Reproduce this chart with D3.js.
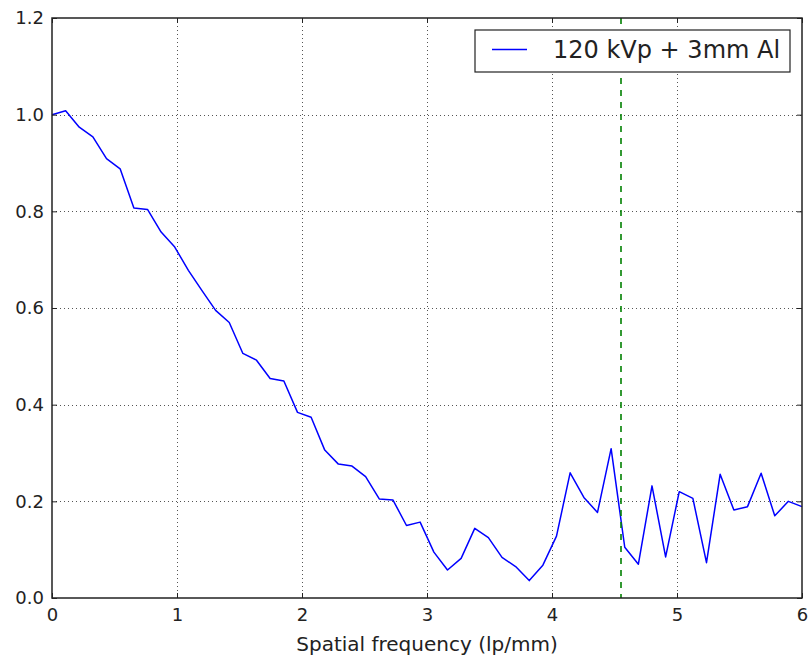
<!DOCTYPE html>
<html>
<head>
<meta charset="utf-8">
<script src="https://cdn.jsdelivr.net/npm/d3@7"></script>
<style>
  html, body { margin: 0; padding: 0; background: #fff; }
  svg { display: block; font-family: "DejaVu Sans", sans-serif; }
</style>
</head>
<body>
<svg id="chart" width="809" height="658"></svg>
<script>
// Spatial frequencies (lp/mm)
const frequency = [
  0.000, 0.109, 0.218, 0.327, 0.436, 0.545, 0.655, 0.764, 0.873, 0.982,
  1.091, 1.200, 1.309, 1.418, 1.527, 1.636, 1.745, 1.855, 1.964, 2.073,
  2.182, 2.291, 2.400, 2.509, 2.618, 2.727, 2.836, 2.945, 3.055, 3.164,
  3.273, 3.382, 3.491, 3.600, 3.709, 3.818, 3.927, 4.036, 4.145, 4.255,
  4.364, 4.473, 4.582, 4.691, 4.800, 4.909, 5.018, 5.127, 5.236, 5.345,
  5.455, 5.564, 5.673, 5.782, 5.891, 6.000
];
// MTF for 120 kVp + 3mm Al
const mtf = [
  1.000, 1.008, 0.974, 0.954, 0.909, 0.888, 0.807, 0.804, 0.757, 0.726,
  0.678, 0.636, 0.595, 0.570, 0.506, 0.492, 0.454, 0.449, 0.384, 0.374,
  0.306, 0.277, 0.273, 0.251, 0.205, 0.203, 0.150, 0.157, 0.095, 0.058,
  0.082, 0.144, 0.125, 0.084, 0.065, 0.036, 0.068, 0.128, 0.259, 0.208,
  0.177, 0.309, 0.105, 0.070, 0.232, 0.085, 0.220, 0.206, 0.073, 0.256,
  0.182, 0.189, 0.258, 0.170, 0.200, 0.189
];
const seriesLabel = "120 kVp + 3mm Al";
const nyquist = 4.552;
const xTicks = [0, 1, 2, 3, 4, 5, 6];
const yTicks = [0.0, 0.2, 0.4, 0.6, 0.8, 1.0, 1.2];
const xLabel = "Spatial frequency (lp/mm)";

const margin = { left: 52, top: 18, right: 7, bottom: 60 };
const W = 809, H = 658;
const innerW = W - margin.left - margin.right;
const innerH = H - margin.top - margin.bottom;

const svg = d3.select("#chart");
const g = svg.append("g").attr("transform", `translate(${margin.left},${margin.top})`);

const x = d3.scaleLinear().domain([0, 6]).range([0, innerW]);
const y = d3.scaleLinear().domain([0, 1.2]).range([innerH, 0]);

// dotted grid
const grid = g.append("g").attr("stroke", "#555").attr("stroke-width", 1)
  .attr("stroke-dasharray", "1,3");
grid.selectAll(".gx").data(xTicks.slice(1, -1)).join("line")
  .attr("x1", d => Math.round(x(d)) + 0.5).attr("x2", d => Math.round(x(d)) + 0.5)
  .attr("y1", 0).attr("y2", innerH);
grid.selectAll(".gy").data(yTicks.slice(1, -1)).join("line")
  .attr("y1", d => Math.round(y(d)) + 0.5).attr("y2", d => Math.round(y(d)) + 0.5)
  .attr("x1", 0).attr("x2", innerW);

// data line
const line = d3.line().x((d, i) => x(frequency[i])).y(d => y(d));
g.append("path").datum(mtf)
  .attr("fill", "none").attr("stroke", "#0000ff").attr("stroke-width", 1.5)
  .attr("stroke-linejoin", "round")
  .attr("d", line);

// Nyquist marker
g.append("line")
  .attr("x1", x(nyquist)).attr("x2", x(nyquist))
  .attr("y1", 0).attr("y2", innerH)
  .attr("stroke", "#008000").attr("stroke-width", 1.6)
  .attr("stroke-dasharray", "6,6");

// axes with inward ticks on all sides
const tickLen = 5;
const axB = d3.axisBottom(x).tickValues(xTicks).tickFormat(d3.format("d"))
  .tickSizeInner(-tickLen).tickSizeOuter(0).tickPadding(10);
const axL = d3.axisLeft(y).tickValues(yTicks).tickFormat(d3.format(".1f"))
  .tickSizeInner(-tickLen).tickSizeOuter(0).tickPadding(8);
const axT = d3.axisTop(x).tickValues(xTicks).tickFormat("").tickSizeInner(-tickLen).tickSizeOuter(0);
const axR = d3.axisRight(y).tickValues(yTicks).tickFormat("").tickSizeInner(-tickLen).tickSizeOuter(0);

function styleAxis(sel) {
  sel.select(".domain").remove();
  sel.selectAll(".tick line").attr("stroke", "#222");
  sel.selectAll("text").attr("fill", "#222").style("font-size", "18px")
    .style("font-family", "DejaVu Sans, sans-serif");
}
g.append("g").attr("transform", `translate(0,${innerH})`).call(axB).call(styleAxis);
g.append("g").call(axL).call(styleAxis);
g.append("g").call(axT).call(styleAxis);
g.append("g").attr("transform", `translate(${innerW},0)`).call(axR).call(styleAxis);

// frame
g.append("rect").attr("x", 0).attr("y", 0).attr("width", innerW).attr("height", innerH)
  .attr("fill", "none").attr("stroke", "#222").attr("stroke-width", 1.5);

// axis label
g.append("text")
  .attr("x", innerW / 2).attr("y", innerH + 53)
  .attr("text-anchor", "middle").attr("fill", "#222")
  .style("font-size", "20px")
  .text(xLabel);

// legend
const leg = svg.append("g").attr("transform", "translate(475,30)");
leg.append("rect").attr("x", 0).attr("y", 0).attr("width", 315).attr("height", 42)
  .attr("fill", "#fff").attr("stroke", "#222").attr("stroke-width", 1.2);
leg.append("line").attr("x1", 17).attr("x2", 52).attr("y1", 19.5).attr("y2", 19.5)
  .attr("stroke", "#0000ff").attr("stroke-width", 1.3);
leg.append("text").attr("x", 78).attr("y", 27.5).attr("fill", "#222")
  .style("font-size", "24px").text(seriesLabel);
</script>
</body>
</html>
